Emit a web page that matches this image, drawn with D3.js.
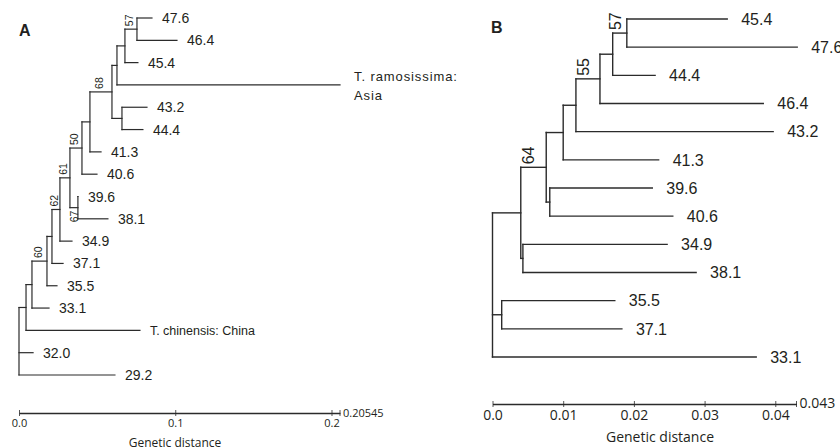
<!DOCTYPE html>
<html lang="en">
<head>
	<meta charset="UTF-8">
	<title>Genetic distance trees</title>
	<style>
		html, body {
			margin: 0;
			background: #fff;
		}
		svg text {
			fill: #231f20;
		}
		.leaf {
			font-family: 'Liberation Sans', Arial, sans-serif;
		}
		.boot {
			font-family: 'Liberation Sans', Arial, sans-serif;
		}
		.axis text, .axis-title {
			font-family: 'Open Sans', sans-serif;
		}
	</style>
	<script src="https://d3js.org/d3.v7.min.js"></script>
</head>
<body>
	<svg id="container" width="840" height="448"></svg>
	<script>
		// Panel A: [node, parent, distance from root]; rows in top-to-bottom order
		const treeA = [
			['root', '', 0],
			['g', 'root', 0.0045],
			['f', 'g', 0.0083],
			['n60', 'f', 0.0179],
			['e', 'n60', 0.0211],
			['n62', 'e', 0.0262],
			['n61', 'n62', 0.0326],
			['n50', 'n61', 0.0403],
			['d', 'n50', 0.0454],
			['n68', 'd', 0.0595],
			['b', 'n68', 0.0627],
			['a', 'b', 0.0678],
			['n57', 'a', 0.0755],
			['47.6', 'n57', 0.0851],
			['46.4', 'n57', 0.1011],
			['45.4', 'a', 0.0761],
			['T. ramosissima:|Asia', 'b', 0.20545],
			['c', 'n68', 0.0659],
			['43.2', 'c', 0.0819],
			['44.4', 'c', 0.0793],
			['41.3', 'd', 0.0525],
			['40.6', 'n50', 0.0499],
			['n67', 'n61', 0.0377],
			['39.6', 'n67', 0.0377],
			['38.1', 'n67', 0.0569],
			['34.9', 'n62', 0.0339],
			['37.1', 'e', 0.0282],
			['35.5', 'n60', 0.0243],
			['33.1', 'f', 0.0192],
			['T. chinensis: China', 'g', 0.0774],
			['32.0', 'root', 0.0090],
			['29.2', 'root', 0.0614],
		];
		// bootstrap values: [node, value, side of branch]
		const bootA = [
			['n57', 57, 'above'],
			['n68', 68, 'above'],
			['n50', 50, 'above'],
			['n61', 61, 'above'],
			['n67', 67, 'below'],
			['n62', 62, 'above'],
			['n60', 60, 'above'],
		];
		const ticksA = [0, 0.1, 0.2];
		const tickLabelsA = ['0.0', '0.1', '0.2'];
		const maxA = 0.20545;

		// Panel B
		const treeB = [
			['root', '', 0],
			['n6', 'root', 0.0040],
			['n64', 'n6', 0.0076],
			['n4', 'n64', 0.0100],
			['n3', 'n4', 0.0118],
			['n55', 'n3', 0.0152],
			['n1', 'n55', 0.0170],
			['n57', 'n1', 0.0190],
			['45.4', 'n57', 0.0332],
			['47.6', 'n57', 0.0431],
			['44.4', 'n1', 0.0230],
			['46.4', 'n55', 0.0383],
			['43.2', 'n3', 0.0397],
			['41.3', 'n4', 0.0235],
			['m', 'n64', 0.0081],
			['39.6', 'm', 0.0226],
			['40.6', 'm', 0.0255],
			['k', 'n6', 0.0043],
			['34.9', 'k', 0.0247],
			['38.1', 'k', 0.0288],
			['n7', 'root', 0.0013],
			['35.5', 'n7', 0.0173],
			['37.1', 'n7', 0.0183],
			['33.1', 'root', 0.0373],
		];
		const bootB = [
			['n57', 57, 'above'],
			['n55', 55, 'above'],
			['n64', 64, 'above'],
		];
		const ticksB = [0, 0.01, 0.02, 0.03, 0.04];
		const tickLabelsB = ['0.0', '0.01', '0.02', '0.03', '0.04'];
		const maxB = 0.043;

		const svg = d3.select('#container');
		svg.append('rect').attr('width', 840).attr('height', 448).attr('fill', '#fff');

		const ink = '#2b2b2b';

		function drawPanel(rows, boot, ticks, tickLabels, max, cfg) {
			const g = svg.append('g');
			const root = d3.stratify().id(d => d[0]).parentId(d => d[1] || null)(rows);
			const x = d3.scaleLinear().domain([0, max]).range(cfg.xRange);
			const leaves = root.leaves();
			const y = d3.scaleLinear().domain([0, leaves.length - 1]).range(cfg.yRange);
			leaves.forEach((n, i) => { n.py = y(i); });
			root.eachAfter(n => {
				if (n.children) n.py = (n.children[0].py + n.children[n.children.length - 1].py) / 2;
			});

			// horizontal branches
			g.selectAll('line.h')
				.data(root.descendants().filter(n => n.parent))
				.join('line')
				.attr('class', 'h')
				.attr('x1', n => x(n.parent.data[2]))
				.attr('x2', n => x(n.data[2]))
				.attr('y1', n => n.py)
				.attr('y2', n => n.py)
				.attr('stroke', ink)
				.attr('stroke-width', cfg.stroke)
				.attr('stroke-linecap', 'square');

			// vertical connectors
			g.selectAll('line.v')
				.data(root.descendants().filter(n => n.children))
				.join('line')
				.attr('class', 'v')
				.attr('x1', n => x(n.data[2]))
				.attr('x2', n => x(n.data[2]))
				.attr('y1', n => n.children[0].py)
				.attr('y2', n => n.children[n.children.length - 1].py)
				.attr('stroke', ink)
				.attr('stroke-width', cfg.stroke)
				.attr('stroke-linecap', 'square');

			// leaf labels (| splits into two lines)
			const lab = g.selectAll('text.leaf')
				.data(leaves)
				.join('text')
				.attr('class', 'leaf')
				.attr('x', n => x(n.data[2]) + cfg.gap)
				.attr('y', n => n.py)
				.attr('font-size', cfg.leafFont);
			lab.each(function(n) {
				const parts = n.id.split('|');
				const t = d3.select(this);
				if (parts.length === 1) {
					t.attr('dy', '0.36em').text(parts[0]);
					if (n.id.startsWith('T.')) t.attr('font-family', 'DejaVu Sans, sans-serif').attr('font-size', cfg.nameFont);
				} else {
					t.attr('font-family', 'DejaVu Sans, sans-serif')
						.attr('font-size', cfg.nameFont + 0.5)
						.attr('letter-spacing', 0.9);
					parts.forEach((p, i) => {
						t.append('tspan')
							.attr('x', x(n.data[2]) + cfg.gap + 4)
							.attr('dy', i === 0 ? '-0.3em' : '1.45em')
							.text(p);
					});
				}
			});

			// bootstrap values, rotated, over the branch leading to the node
			const byId = new Map(root.descendants().map(n => [n.id, n]));
			g.selectAll('text.boot')
				.data(boot)
				.join('text')
				.attr('class', 'boot')
				.attr('font-size', cfg.bootFont)
				.attr('text-anchor', d => d[2] === 'above' ? 'start' : 'end')
				.attr('dy', '0.36em')
				.attr('transform', d => {
					const n = byId.get(d[0]);
					const mx = d[2] === 'above'
						? (x(n.parent.data[2]) + x(n.data[2])) / 2 + cfg.bootShift
						: x(n.data[2]) - 4;
					const my = d[2] === 'above' ? n.py - 3 : n.py + 3;
					return `translate(${mx},${my}) rotate(-90)`;
				})
				.text(d => d[1]);

			// scale bar
			const axis = d3.axisBottom(x)
				.tickValues(ticks)
				.tickFormat((d, i) => tickLabels[i])
				.tickSizeInner(3)
				.tickSizeOuter(0);
			const ag = g.append('g')
				.attr('class', 'axis')
				.attr('transform', `translate(0,${cfg.axisY})`)
				.call(axis);
			ag.attr('font-family', null).attr('font-size', cfg.axisFont);
			ag.select('.domain').attr('stroke', ink).attr('stroke-width', 1.3);
			ag.selectAll('.tick line').attr('y1', -3).attr('stroke', ink).attr('stroke-width', 0.8);
			ag.selectAll('.tick text').attr('fill', '#231f20');
			ag.append('line')
				.attr('x1', x(max)).attr('x2', x(max))
				.attr('y1', -3).attr('y2', 3)
				.attr('stroke', ink).attr('stroke-width', 0.8);
			ag.append('text')
				.attr('x', x(max) + 3)
				.attr('y', 0)
				.attr('dy', '0.32em')
				.attr('text-anchor', 'start')
				.attr('fill', '#231f20')
				.text(max);

			g.append('text')
				.attr('class', 'axis-title')
				.attr('x', cfg.titleX)
				.attr('y', cfg.titleY)
				.attr('text-anchor', 'middle')
				.attr('font-size', cfg.titleFont)
				.text('Genetic distance');

			g.append('text')
				.attr('x', cfg.letter[0])
				.attr('y', cfg.letter[1])
				.attr('font-family', 'Liberation Sans, Arial, sans-serif')
				.attr('font-weight', 'bold')
				.attr('font-size', 16)
				.text(cfg.letter[2]);
		}

		drawPanel(treeA, bootA, ticksA, tickLabelsA, maxA, {
			xRange: [19, 340],
			yRange: [18, 375],
			stroke: 1.2,
			gap: 10,
			leafFont: 14,
			nameFont: 12.5,
			bootFont: 10.5,
			bootShift: -1.5,
			axisY: 413,
			axisFont: 11,
			titleX: 175,
			titleY: 447,
			titleFont: 12,
			letter: [19, 36, 'A'],
		});

		drawPanel(treeB, bootB, ticksB, tickLabelsB, maxB, {
			xRange: [492.5, 796.5],
			yRange: [19, 357],
			stroke: 1.4,
			gap: 14,
			leafFont: 16,
			nameFont: 14,
			bootFont: 16,
			bootShift: -5,
			axisY: 404,
			axisFont: 14,
			titleX: 660,
			titleY: 442,
			titleFont: 14,
			letter: [491, 33, 'B'],
		});
	</script>
</body>
</html>
